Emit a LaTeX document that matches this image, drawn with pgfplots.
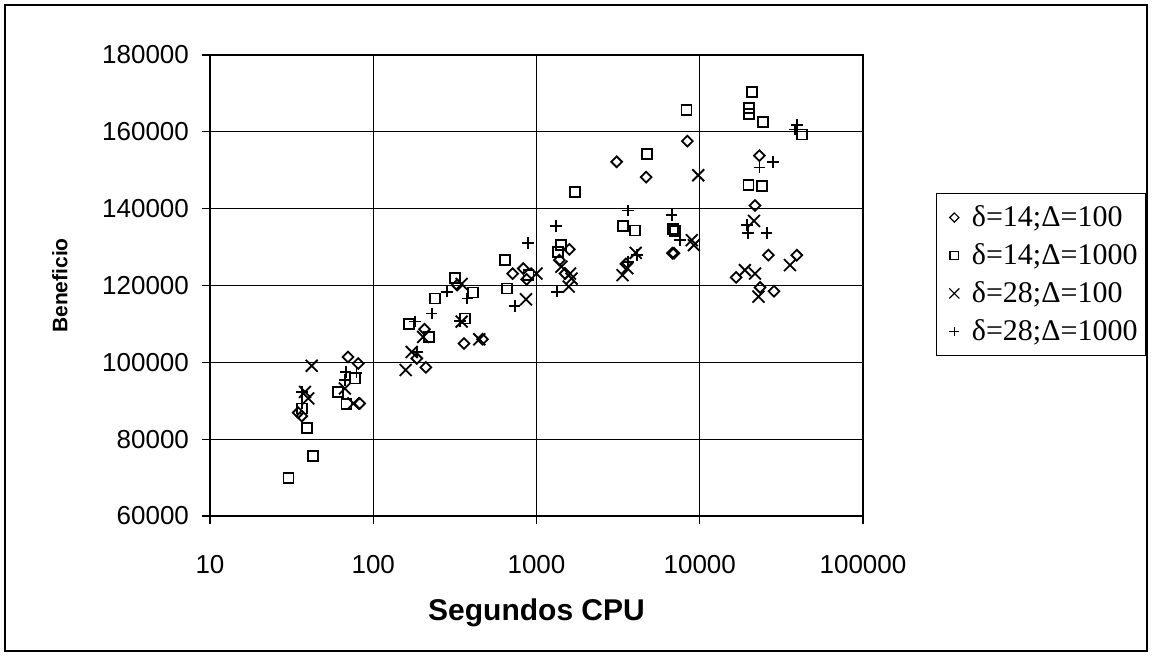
\documentclass[border=0pt]{standalone}
\usepackage{fontspec}
\setmainfont{Liberation Sans}
\newfontfamily\tnr{Liberation Serif}
\usepackage{pgfplots}
\pgfplotsset{compat=1.18}

\begin{document}
\begin{tikzpicture}[x=1pt,y=1pt]
\path (0,0) rectangle (576,328);
\draw[line width=0.7pt] (2.5,2.5) rectangle (573.5,325.5);
\begin{semilogxaxis}[
  at={(105pt,70pt)}, anchor=south west,
  scale only axis, width=326.5pt, height=230.5pt,
  xmin=10, xmax=100000, ymin=60000, ymax=180000,
  xtick={10,100,1000,10000,100000},
  xticklabels={10,100,1000,10000,100000},
  ytick={60000,80000,...,180000},
  xminorticks=false,
  scaled y ticks=false,
  yticklabel style={/pgf/number format/fixed,/pgf/number format/1000 sep={}, xshift=-7pt},
  xticklabel style={yshift=-16pt},
  /pgf/number format/assume math mode=true,
  tick label style={font=\fontsize{13}{15}\selectfont},
  grid=major, major grid style={black, line width=0.6pt},
  axis line style={line width=0.8pt},
  tick pos=left,
  tick align=inside, major tick length=-4pt,
  tick style={black, line width=0.6pt},
  xlabel={Segundos CPU}, ylabel={Beneficio},
  xlabel style={at={(axis description cs:0.5,-0.21)}, anchor=center, font=\bfseries\fontsize{15}{17}\selectfont},
  ylabel style={at={(axis description cs:-0.23,0.5)}, anchor=center, font=\bfseries\fontsize{10.5}{12}\selectfont},
  legend style={at={(axis description cs:1.112,0.7007)}, anchor=north west, draw=black, line width=0.6pt,
    font=\tnr\fontsize{15}{17}\selectfont, row sep=3pt, inner xsep=2pt, inner ysep=4pt,
    nodes={inner xsep=2pt}},
  legend cell align=left,
  legend image code/.code={\path (0pt,0pt) (13pt,0pt);
    \draw[#1, only marks, every mark/.append style={scale=0.85, line width=0.6pt}] plot coordinates {(6.5pt,0pt)};},
]
\addplot[only marks, mark=square, mark size=1.9pt, mark options={rotate=45, line width=0.9pt}] coordinates {
(34.7,86900) (36.5,86000) (70,101400) (81,99700) (82.6,89300) (185,101000) (206,108600)
(210,98700) (327,120100) (360,104900) (467,106000) (714,123100) (830,124400) (870,121600)
(1381,126600) (1496,123100) (1590,129400) (3098,152200) (3530,125600) (4690,148200)
(6800,128400) (6950,128400) (8400,157600) (16700,122100) (21800,140800) (23200,153800)
(23400,119500) (26300,127900) (28500,118500) (39300,127900)
};
\addlegendentry{δ=14;Δ=100}
\addplot[only marks, mark=square, mark size=2.5pt, mark options={line width=0.9pt}] coordinates {
(30.3,69800) (39.1,82800) (42.6,75600) (36.5,88000) (61,92300) (68.6,89100) (77,95800)
(166,110000) (220,106600) (239,116600) (317,121900) (365,111400) (410,118200) (641,126600)
(660,119200) (893,122700) (1360,128800) (1406,130500) (1722,144300) (3396,135500)
(4009,134300) (4750,154300) (6820,134600) (7050,134200) (8300,165700) (19900,146100)
(20100,166100) (20100,164600) (20800,170300) (24000,146000) (24500,162600) (42100,159300)
};
\addlegendentry{δ=14;Δ=1000}
\addplot[only marks, mark=x, mark size=4.2pt, mark options={line width=0.9pt}] coordinates {
(38.2,92300) (40,90600) (42,99100) (67,93200) (75.6,89300) (158,98000) (172,102700)
(202,106600) (348,120400) (348,110600) (446,106000) (862,116400) (1000,123100)
(1423,124900) (1603,123100) (1640,121800) (1575,119700) (3365,122700) (3600,124500)
(4050,128500) (8930,131800) (9200,130500) (9790,148700) (18900,124000) (21500,136800)
(21800,123100) (22900,117100) (35700,125300)
};
\addlegendentry{δ=28;Δ=100}
\addplot[only marks, mark=+, mark size=2.9pt, mark options={line width=0.9pt}] coordinates {
(36.5,92300) (36.5,89300) (67.8,97500) (67,95400) (79,97300) (180,110600) (185,102700)
(228,112700) (282,118400) (340,110800) (377,116600) (735,114600) (890,131000)
(1319,135500) (1340,118400) (3647,139500) (3647,126200) (4140,127900) (6730,138300)
(7570,131800) (19400,135700) (19800,133600) (23200,150700) (25700,133600) (28000,152200)
(38300,160600) (39300,161800)
};
\addlegendentry{δ=28;Δ=1000}
\end{semilogxaxis}
\end{tikzpicture}
\end{document}
